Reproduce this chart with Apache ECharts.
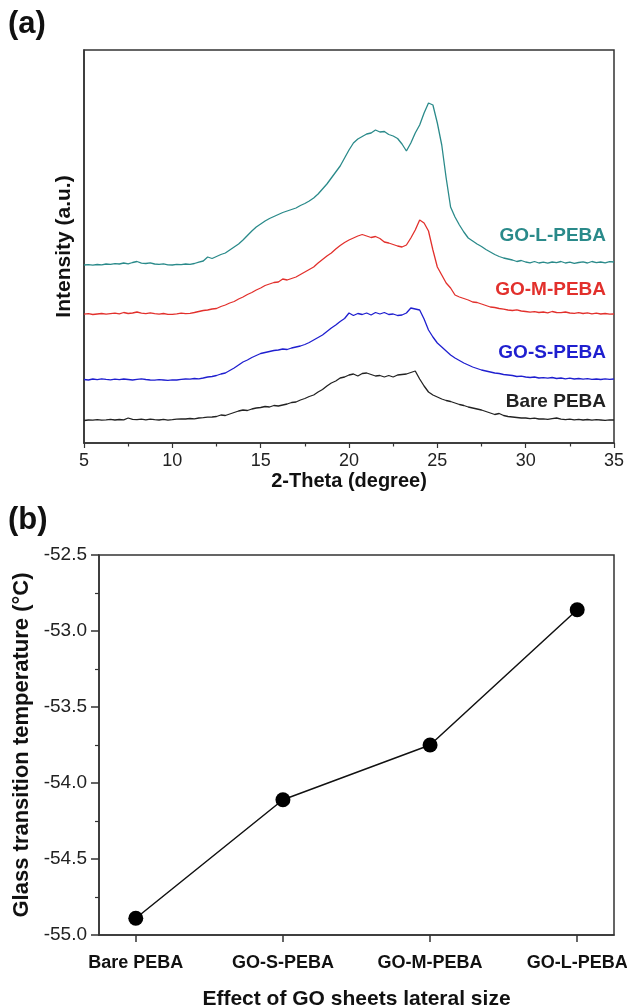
<!DOCTYPE html>
<html>
<head>
<meta charset="utf-8">
<script src="https://cdn.jsdelivr.net/npm/echarts@6/dist/echarts.min.js"></script>
<style>
  html, body { margin: 0; padding: 0; background: #fff; }
  #chart { width: 627px; height: 1008px; }
</style>
</head>
<body>
<div id="chart"></div>
<script>
// ---- (a) XRD patterns, read every 0.25 deg from 5 to 35 (stacked, a.u.) ----
const bare = [
  22.5, 23, 22.8, 23.4,   22.9, 23.2, 23.6, 23,   23.5, 23.2, 25, 23.6,
  23.3, 23.8, 23.2, 23.9,   23.4, 23, 23.6, 22.9,   23.3, 23.8, 24.2, 24,
  24.5, 24.2, 25, 25.3,   25.8, 26, 26.5, 28,   27.5, 29, 30.5, 32,
  33, 32.5, 34, 35,   35.5, 36.5, 36, 37.5,   37, 38, 39, 40.5,
  41, 43, 44.5, 46.5,   48, 51, 53.5, 57,   60, 62, 65, 66,
  68, 69, 67, 69.5,   70, 68.5, 67, 67.5,   66, 67.5, 66, 68,
  68.5, 69, 70.5, 72,   64, 57, 51, 48,   46, 44, 42.5, 41.5,
  40, 38.5, 37.5, 36,   35, 34, 33, 31.5,   30, 28.5, 29.5, 27.5,
  26.5, 26, 25.5, 25,   25, 24.3, 24.8, 24,   24.2, 23.6, 24.4, 25,
  23.8, 23.4, 23.9, 23.2,   23.6, 23, 23.5, 22.8,   23.3, 23, 22.7, 23.2,
  23
];
const goS = [
  63.5, 63, 64, 63.4,   64.2, 63.6, 63.2, 63.8,   63.4, 64, 63.5, 63,
  63.6, 64.2, 63.5, 63,   62.8, 63.4, 63, 62.6,   63.2, 63, 63.6, 64,
  63.8, 64.5, 64.2, 65,   66, 66.5, 67.5, 69,   70, 72.5, 75, 78,
  81, 83, 85.5, 87.5,   89.5, 90.5, 91.5, 92.5,   93, 94, 93.5, 95,
  96, 97, 98.5, 100.5,   103, 105.5, 108, 111.5,   115, 118, 121.5, 124.5,
  130, 127.5, 129.5, 128.5,   130, 128, 130.5, 129,   130.5, 128.5, 129, 127.5,
  128, 130, 135, 134,   133, 124, 113, 106,   100, 96, 92, 88,
  85, 82.5, 80, 78,   76, 74.5, 73, 72,   71, 70, 69.5, 68.5,
  68, 67.5, 66.5, 66.8,   66, 65.5, 66, 65,   65.4, 64.8, 65.5, 64.5,
  65, 64.2, 64.8, 64,   64.5, 63.8, 64.3, 63.6,   64, 63.5, 64.2, 63.7,
  64
];
const goM = [
  128.8, 129.3, 128.5, 129,   129.5, 128.8, 129.3, 129.8,   129.2, 130.5, 129.5, 130,
  131, 129.8, 129.4, 130.2,   129.3, 128.8, 129.5, 128.6,   128.7, 129.2, 129.8, 129.4,
  129.7, 130.5, 131.5, 132.5,   133, 134, 134.5, 136.5,   138, 140, 141.5, 144,
  146, 148.5, 150.5, 153,   155, 157.5, 159, 160.5,   161, 164, 163, 164.5,
  166, 168.5, 171, 173.5,   176, 180, 183.5, 187,   190, 194, 197.5, 200.5,
  203, 205, 207, 208.5,   207, 205.5, 206.5, 204.5,   201, 200, 198.5, 197,
  196, 198, 205, 213,   223, 220, 212, 193,   176, 168, 160, 155,
  148, 146, 144.5, 143,   141, 140.5, 139, 137.5,   136, 135.5, 134.5, 133.8,
  133, 132.5, 133.2, 132,   131.5, 130.8, 131.3, 130.5,   131, 130.2, 131.5, 130.5,
  130.3, 131, 130, 129.6,   130.4, 129.5, 130.2, 129.2,   129.8, 129, 129.5, 128.8,
  129
];
const goL = [
  178, 178.4, 177.8, 178.5,   178.2, 179, 178.6, 179.3,   179, 180, 179.2, 180.5,
  181.5, 179.8, 179.5, 180.2,   179, 178.6, 179.2, 178.2,   178, 178.6, 178.3, 179,
  178.7, 179.5, 180.8, 182,   186, 184.5, 186.5, 188.5,   190, 193, 196, 199,
  203, 207.5, 212, 216,   219, 222, 224.5, 226.5,   228.5, 230.5, 232, 233.5,
  235, 237.5, 239.5, 242,   245, 249, 254, 259,   265, 271, 277, 285,
  293, 300, 304, 306.5,   309, 310, 313, 311,   311.5, 308.5, 307, 304.5,
  299, 292, 300, 310,   318, 330, 340, 338,   320, 298, 265, 236,
  226, 218, 211, 205,   202, 199, 196.5, 193.5,   191, 188.5, 186.5, 185,
  184, 183, 181.5, 182.5,   181, 180.2, 181.5, 180,   180.8, 179.8, 181, 180.4,
  181.5, 180, 180.8, 179.6,   180.5, 181.2, 180, 181.5,   180.4, 181, 180.2, 181.3,
  181
];
// sampling grid of the digitised patterns
const twoTheta = bare.map((_, i) => 5 + i * 0.25);

const xrdNames = ['Bare PEBA', 'GO-S-PEBA', 'GO-M-PEBA', 'GO-L-PEBA'];
const xrdColors = ['#222222', '#1f1fcf', '#e2302c', '#2a8a8a'];

// ---- (b) glass transition temperature ----
const samples = ['Bare PEBA', 'GO-S-PEBA', 'GO-M-PEBA', 'GO-L-PEBA'];
const tg = [-54.89, -54.11, -53.75, -52.86];

const pair = (ys) => ys.map((y, i) => [twoTheta[i], y]);

const chart = echarts.init(document.getElementById('chart'));
const font = 'Liberation Sans, Arial, sans-serif';
const axisCol = '#333';

const option = {
  animation: false,
  backgroundColor: '#fff',
  textStyle: { fontFamily: font },
  grid: [
    { left: 84, top: 50, width: 530, height: 393, show: true, borderColor: axisCol, borderWidth: 1.5, outerBoundsMode: 'none' },
    { left: 99, top: 555, width: 515, height: 380, show: true, borderColor: axisCol, borderWidth: 1.5, outerBoundsMode: 'none' }
  ],
  xAxis: [
    {
      gridIndex: 0, type: 'value', min: 5, max: 35, interval: 5,
      name: '2-Theta (degree)', nameLocation: 'middle', nameGap: 28,
      nameTextStyle: { fontSize: 20, fontWeight: 'bold', color: '#111' },
      axisLine: { lineStyle: { color: axisCol, width: 1.5 } },
      axisTick: { length: 5, lineStyle: { color: axisCol, width: 1.2 } },
      minorTick: { show: true, splitNumber: 2, length: 3.5, lineStyle: { color: axisCol, width: 1.2 } },
      splitLine: { show: false },
      axisLabel: { fontSize: 18, color: '#222', margin: 9 }
    },
    {
      gridIndex: 1, type: 'value', min: 0.75, max: 4.25,
      name: 'Effect of GO sheets lateral size', nameLocation: 'middle', nameGap: 54,
      nameTextStyle: { fontSize: 21, fontWeight: 'bold', color: '#111' },
      axisLine: { lineStyle: { color: axisCol, width: 1.5 } },
      axisTick: { customValues: [1, 2, 3, 4], length: 7, lineStyle: { color: axisCol, width: 1.5 } },
      splitLine: { show: false },
      axisLabel: {
        customValues: [1, 2, 3, 4], fontSize: 18, fontWeight: 'bold', color: '#111', margin: 19,
        formatter: (v) => samples[Math.round(v) - 1]
      }
    }
  ],
  yAxis: [
    {
      gridIndex: 0, type: 'value', min: 0, max: 393,
      name: 'Intensity (a.u.)', nameLocation: 'middle', nameGap: 9,
      nameTextStyle: { fontSize: 21, fontWeight: 'bold', color: '#111' },
      axisLine: { show: true, lineStyle: { color: axisCol, width: 1.5 } },
      axisTick: { show: false }, axisLabel: { show: false }, splitLine: { show: false }
    },
    {
      gridIndex: 1, type: 'value', min: -55, max: -52.5, interval: 0.5,
      name: 'Glass transition temperature (\u00b0C)', nameLocation: 'middle', nameGap: 57,
      nameTextStyle: { fontSize: 22, fontWeight: 'bold', color: '#111' },
      axisLine: { show: true, lineStyle: { color: axisCol, width: 1.5 } },
      axisTick: { length: 8, lineStyle: { color: axisCol, width: 1.5 } },
      minorTick: { show: true, splitNumber: 2, length: 4, lineStyle: { color: axisCol, width: 1.2 } },
      splitLine: { show: false },
      axisLabel: { fontSize: 19, color: '#222', margin: 12, formatter: (v) => v.toFixed(1) }
    }
  ],
  series: [
    ...[bare, goS, goM, goL].map((ys, k) => ({
      name: xrdNames[k], type: 'line', xAxisIndex: 0, yAxisIndex: 0,
      data: pair(ys), showSymbol: false, smooth: false,
      lineStyle: { color: xrdColors[k], width: 1.3 }
    })),
    {
      name: 'Tg', type: 'line', xAxisIndex: 1, yAxisIndex: 1,
      data: tg.map((v, i) => [i + 1, v]),
      symbol: 'circle', symbolSize: 15,
      itemStyle: { color: '#000' },
      lineStyle: { color: '#111', width: 1.5 }
    }
  ],
  graphic: [
    { type: 'text', left: 8, top: 9, style: { text: '(a)', fontSize: 31, fontWeight: 'bold', fill: '#111', fontFamily: font } },
    { type: 'text', left: 8, top: 505, style: { text: '(b)', fontSize: 31, fontWeight: 'bold', fill: '#111', fontFamily: font } },
    ...xrdNames.map((n, k) => ({
      type: 'text', x: 606, y: [402, 353, 290, 236][k],
      style: { text: n, fontSize: 19, fontWeight: 'bold', fill: xrdColors[k], fontFamily: font, align: 'right', verticalAlign: 'middle' }
    }))
  ]
};
chart.setOption(option);
</script>
</body>
</html>
